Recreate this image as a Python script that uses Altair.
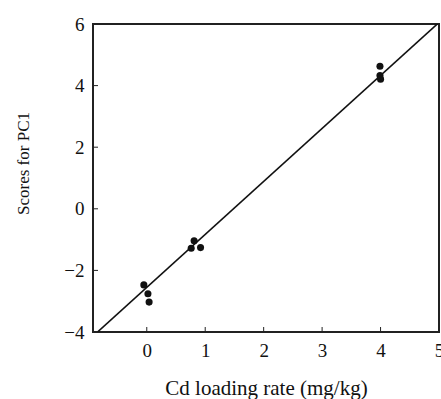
import altair as alt
import pandas as pd

# Data
pt_x = [-0.05, 0.02, 0.04, 0.76, 0.81, 0.92, 3.99, 3.99, 4.0]
pt_y = [-2.47, -2.76, -3.03, -1.28, -1.04, -1.26, 4.63, 4.33, 4.21]
fit_x = [-0.9, 5.0]
fit_y = [-4.1, 6.05]

x_ticks = [0, 1, 2, 3, 4, 5]
y_ticks = [-4, -2, 0, 2, 4, 6]

pts = pd.DataFrame({"x": pt_x, "y": pt_y})
fit = pd.DataFrame({"x": fit_x, "y": fit_y})
xt = pd.DataFrame({"x": x_ticks})
yt = pd.DataFrame({"y": y_ticks})

FONT = "Liberation Serif"
W, H = 346, 308
LFS = 19

xs = alt.Scale(domain=[-0.92, 5.0], nice=False, zero=False)
ys = alt.Scale(domain=[-4, 6], nice=False, zero=False)

xax = alt.Axis(values=x_ticks, title="Cd loading rate (mg/kg)", grid=False, format="d",
               ticks=False, domain=False, labelFontSize=LFS,
               titleFontSize=21, labelFont=FONT, titleFont=FONT, labelColor="#111",
               titleColor="#111", titleFontWeight="normal", labelPadding=9,
               titlePadding=17, labelFlush=False)
yax = alt.Axis(values=y_ticks, title="Scores for PC1", grid=False, format="d",
               ticks=False, domain=False, labelFontSize=LFS,
               titleFontSize=17, labelFont=FONT, titleFont=FONT, labelColor="#111",
               titleColor="#111", titleFontWeight="normal", labelPadding=9,
               titlePadding=31, titleY=139, labelFlush=False)

line = alt.Chart(fit).mark_line(color="#111", strokeWidth=1.6, clip=True).encode(
    x=alt.X("x:Q", scale=xs, axis=xax),
    y=alt.Y("y:Q", scale=ys, axis=yax),
)
points = alt.Chart(pts).mark_circle(color="#111", size=50, opacity=1).encode(
    x=alt.X("x:Q", scale=xs),
    y=alt.Y("y:Q", scale=ys),
)
xtick_marks = alt.Chart(xt).mark_rule(color="#222", strokeWidth=1).encode(
    x=alt.X("x:Q", scale=xs),
    y=alt.value(H),
    y2=alt.value(H - 5),
)
ytick_marks = alt.Chart(yt).mark_rule(color="#222", strokeWidth=1).encode(
    y=alt.Y("y:Q", scale=ys),
    x=alt.value(0),
    x2=alt.value(5),
)
frame = alt.Chart(xt).mark_rect(fill=None, stroke="#222", strokeWidth=1.5).encode(
    x=alt.value(0), x2=alt.value(W), y=alt.value(0), y2=alt.value(H),
)

chart = (frame + line + points + xtick_marks + ytick_marks).properties(
    width=W, height=H,
    autosize=alt.AutoSizeParams(type="none"),
    padding={"left": 93, "top": 24, "right": 2, "bottom": 67},
).configure(background="white").configure_view(stroke=None)

chart.save("out.html", embed_options={"renderer": "svg", "actions": False})
